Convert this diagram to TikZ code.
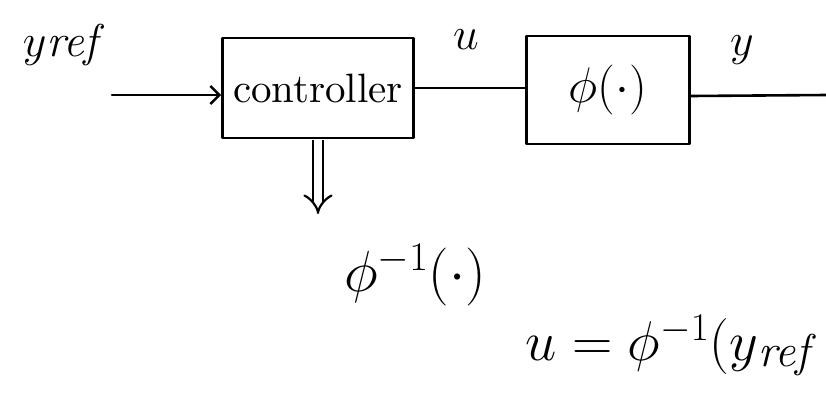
\RequirePackage{fix-cm}
\documentclass[tikz,border=0pt]{standalone}
\usepackage{amsmath}
\usepackage{graphicx}
\usetikzlibrary{arrows.meta}
\begin{document}
\begin{tikzpicture}[x=1pt,y=-1pt,
  line width=2.6pt, line cap=round, line join=round,
  block/.style={draw, rectangle, line width=2.6pt, inner sep=0pt},
  wire/.style={draw, line width=2.6pt},
  arrow/.style={wire, -{Straight Barb[length=9pt,width=18pt,line width=2.6pt]}},
  txt/.style={inner sep=0pt}
]
\useasboundingbox (0,0) rectangle (826,397);

% forward path blocks
\node[block, minimum width=191pt, minimum height=100pt] (ctrl) at (318,88)
  {\scalebox{4.1}{controller}};
\node[block, minimum width=163pt, minimum height=108pt] (plant) at (608,90)
  {\fontsize{50}{52}\selectfont $\phi(\cdot)$};

% signals
\coordinate (refin) at (112,95);
\coordinate (yout) at (826,95);
\draw[arrow] (refin) -- (refin -| ctrl.west);
\draw[wire] (ctrl.east |- 0,88) -- (plant.west |- 0,88);
\draw[wire] (plant.east |- 0,96) -- (yout);

% signal labels
\node[txt] (lref) at (65,45) {\fontsize{46}{48}\selectfont $y\mathit{ref}$};
\node[txt] (lu) at (466,40) {\fontsize{46}{48}\selectfont $u$};
\node[txt] (ly) at (742,50) {\fontsize{46}{48}\selectfont $y$};

% the controller realises the inverse map
\node[txt] (inv) at (415,275) {\fontsize{58}{60}\selectfont $\phi^{-1}(\cdot)$};
\coordinate (dtop) at (318,140);
\coordinate (dbot) at (318,214);
\draw[double, double distance=8pt, line width=2.2pt, line cap=butt,
      -{Implies[length=16pt]}] (dtop) -- (dbot);

% resulting control law
\node[txt, anchor=west] (law) at (524,345)
  {\fontsize{56}{58}\selectfont $u=\phi^{-1}(y$\raisebox{-6pt}{\fontsize{46}{48}\selectfont$\mathit{ref}$}};
\end{tikzpicture}
\end{document}
